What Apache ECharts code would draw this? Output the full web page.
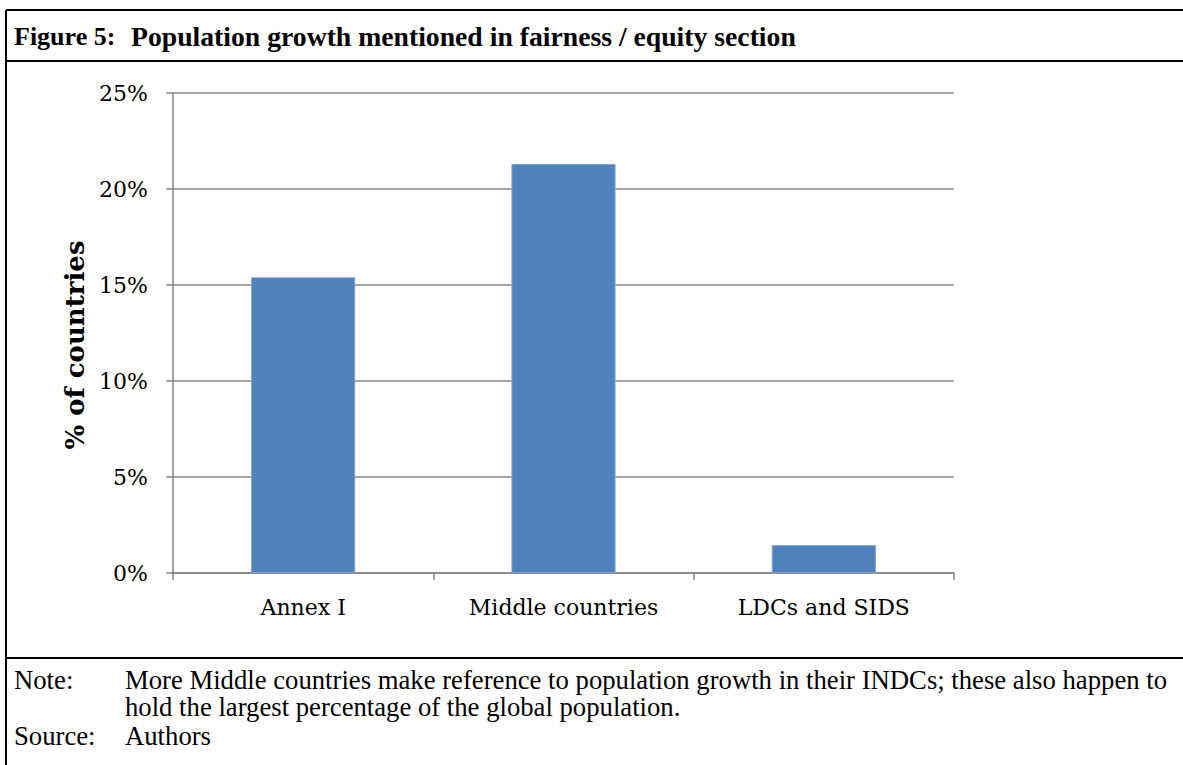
<!DOCTYPE html>
<html>
<head>
<meta charset="utf-8">
<script src="https://cdn.jsdelivr.net/npm/echarts@6/dist/echarts.min.js"></script>
<style>
html,body{margin:0;padding:0;background:#fff;}
#chart{width:1183px;height:765px;}
</style>
</head>
<body>
<div id="chart"></div>
<script>
const categories = ['Annex I', 'Middle countries', 'LDCs and SIDS'];
const shareOfCountries = [15.4, 21.3, 1.45];
const yTicks = [0, 5, 10, 15, 20, 25];
const titleLabel = 'Figure 5:';
const titleText = 'Population growth mentioned in fairness / equity section';
const noteLabel = 'Note:';
const noteLines = ['More Middle countries make reference to population growth in their INDCs; these also happen to', 'hold the largest percentage of the global population.'];
const sourceLabel = 'Source:';
const sourceText = 'Authors';

const chart = echarts.init(document.getElementById('chart'), null, {renderer: 'svg'});
const serif = '"Liberation Serif", "Times New Roman", serif';
const axisFont = '"DejaVu Serif", serif';
const lineColor = '#000';

const graphics = [
  {type: 'line', shape: {x1: 6, y1: 10, x2: 1190, y2: 10}, style: {stroke: lineColor, lineWidth: 2}},
  {type: 'line', shape: {x1: 6, y1: 61, x2: 1190, y2: 61}, style: {stroke: lineColor, lineWidth: 2}},
  {type: 'line', shape: {x1: 6, y1: 658, x2: 1190, y2: 658}, style: {stroke: lineColor, lineWidth: 2}},
  {type: 'line', shape: {x1: 6, y1: 10, x2: 6, y2: 770}, style: {stroke: lineColor, lineWidth: 2}},
  {type: 'text', left: 14, top: 23, style: {text: titleLabel, font: 'bold 26px ' + serif, fill: '#000'}},
  {type: 'text', left: 131, top: 22, style: {text: titleText, font: 'bold 27.7px ' + serif, fill: '#000'}},
  {type: 'text', left: 14, top: 666, style: {text: noteLabel, font: '26.7px ' + serif, fill: '#000'}},
  {type: 'text', left: 125, top: 666, style: {text: noteLines[0], font: '26.7px ' + serif, fill: '#000'}},
  {type: 'text', left: 125, top: 693, style: {text: noteLines[1], font: '26.7px ' + serif, fill: '#000'}},
  {type: 'text', left: 14, top: 722, style: {text: sourceLabel, font: '26.7px ' + serif, fill: '#000'}},
  {type: 'text', left: 125, top: 722, style: {text: sourceText, font: '26.7px ' + serif, fill: '#000'}}
];

chart.setOption({
  backgroundColor: '#fff',
  animation: false,
  grid: {left: 173, top: 93, right: 229, bottom: 192},
  xAxis: {
    type: 'category',
    data: categories,
    axisLine: {lineStyle: {color: '#868686', width: 1.5}},
    axisTick: {show: true, length: 7, lineStyle: {color: '#868686', width: 1.5}},
    axisLabel: {color: '#000', fontFamily: axisFont, fontSize: 22, margin: 23}
  },
  yAxis: {
    type: 'value',
    min: yTicks[0],
    max: yTicks[yTicks.length - 1],
    interval: 5,
    name: '% of countries',
    nameLocation: 'middle',
    nameGap: 84,
    nameTextStyle: {color: '#000', fontFamily: axisFont, fontWeight: 'bold', fontSize: 26, padding: [0, 24, 0, 0]},
    axisLine: {show: true, lineStyle: {color: '#868686', width: 1.5}},
    axisTick: {show: true, length: 7, lineStyle: {color: '#868686', width: 1.5}},
    axisLabel: {color: '#000', fontFamily: axisFont, fontSize: 22, margin: 25, formatter: v => v + '%'},
    splitLine: {show: true, lineStyle: {color: '#868686', width: 1.5}}
  },
  series: [{
    type: 'bar',
    data: shareOfCountries,
    barWidth: '40%',
    itemStyle: {color: '#4F81BD', borderColor: '#7ea3d3', borderWidth: 1}
  }],
  graphic: graphics
});
</script>
</body>
</html>
